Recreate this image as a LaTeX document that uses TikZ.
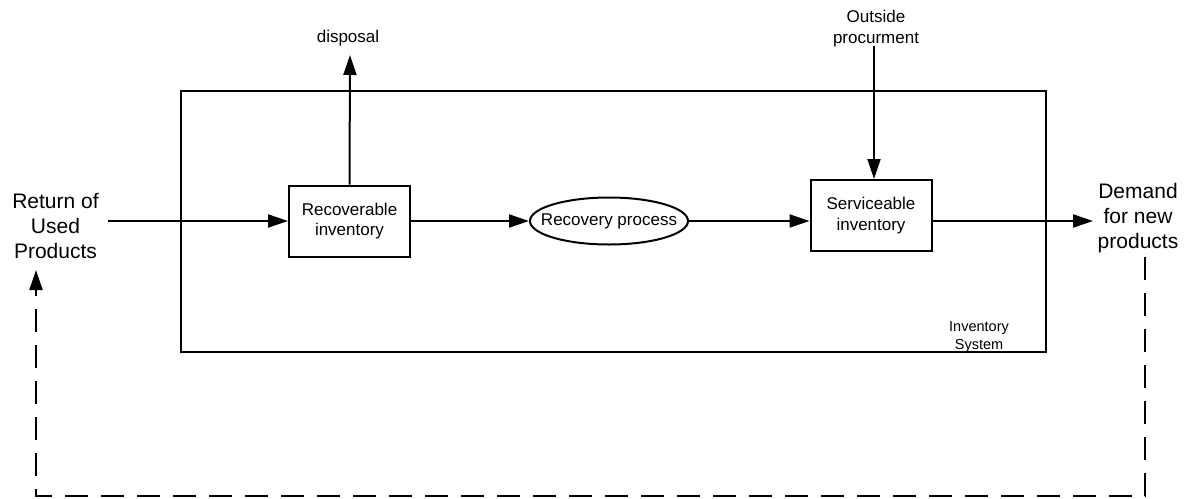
\documentclass[tikz,border=0pt]{standalone}
\usepackage{fontspec}
\setmainfont{Liberation Sans}
\usetikzlibrary{arrows.meta,shapes.geometric}
\begin{document}
\begin{tikzpicture}[x=1pt,y=-1pt,
  line width=2pt,
  tip/.style={-{Triangle[length=20pt,width=13pt]}},
  boxtext/.style={font=\fontsize{17}{20.4}\selectfont,align=center},
  bigtext/.style={font=\fontsize{21}{25}\selectfont,align=center},
  smalltext/.style={font=\fontsize{14.5}{17.3}\selectfont,align=center},
  invbox/.style={draw,rectangle,minimum width=121pt,minimum height=71pt,inner sep=0pt,boxtext},
  procoval/.style={draw,ellipse,minimum width=158pt,minimum height=47pt,inner xsep=-13pt,inner ysep=0pt,boxtext},
  loopline/.style={dash pattern=on 23pt off 13pt}]
\useasboundingbox (0,0) rectangle (1190,498);

% inventory system frame and its label (base = last line's baseline)
\node[draw,rectangle,minimum width=865pt,minimum height=261pt,inner sep=0pt] (sys) at (613.5,221.5) {};
\node[smalltext,anchor=base] (syslabel) at (979,349) {Inventory\\System};

% stock points and the recovery step
\node[invbox] (rec) at (349.5,221) {Recoverable\\inventory};
\node[procoval] (ell) at (609,221) {Recovery process};
\node[invbox] (serv) at (871,215.5) {Serviceable\\inventory};

% outer flows
\node[bigtext,anchor=base] (ret) at (55.5,258) {Return of\\Used\\Products};
\node[bigtext,anchor=base] (dem) at (1138,248) {Demand\\for new\\products};
\node[boxtext,anchor=base] (disp) at (348,42.7) {disposal};
\node[boxtext,anchor=base] (outp) at (876,43) {Outside\\procurment};

\coordinate (dispend) at (350,55);
\coordinate (retstart) at (108,221);
\coordinate (outstart) at (874,46);
\coordinate (demend) at (1093,220);
\coordinate (br) at (1145,496);
\coordinate (bl) at (36,496);
\coordinate (demlow) at (1145,257);
\coordinate (rettip) at (36,270);

% main material flow
\draw[tip] (retstart) -- (rec.west);
\draw[tip] (rec.east) -- (ell.west);
\draw[tip] (ell.east) -- (ell.east -| serv.west);
\draw[tip] (serv.east |- ell.east) -- (demend |- ell.east);
\draw[tip] (rec.north) -- (dispend);
\draw[tip] (outstart) -- (outstart |- serv.north);

% demand-to-return feedback loop
\draw[loopline,tip] (demlow) -- (br) -- (bl) -- (rettip);
\end{tikzpicture}
\end{document}
